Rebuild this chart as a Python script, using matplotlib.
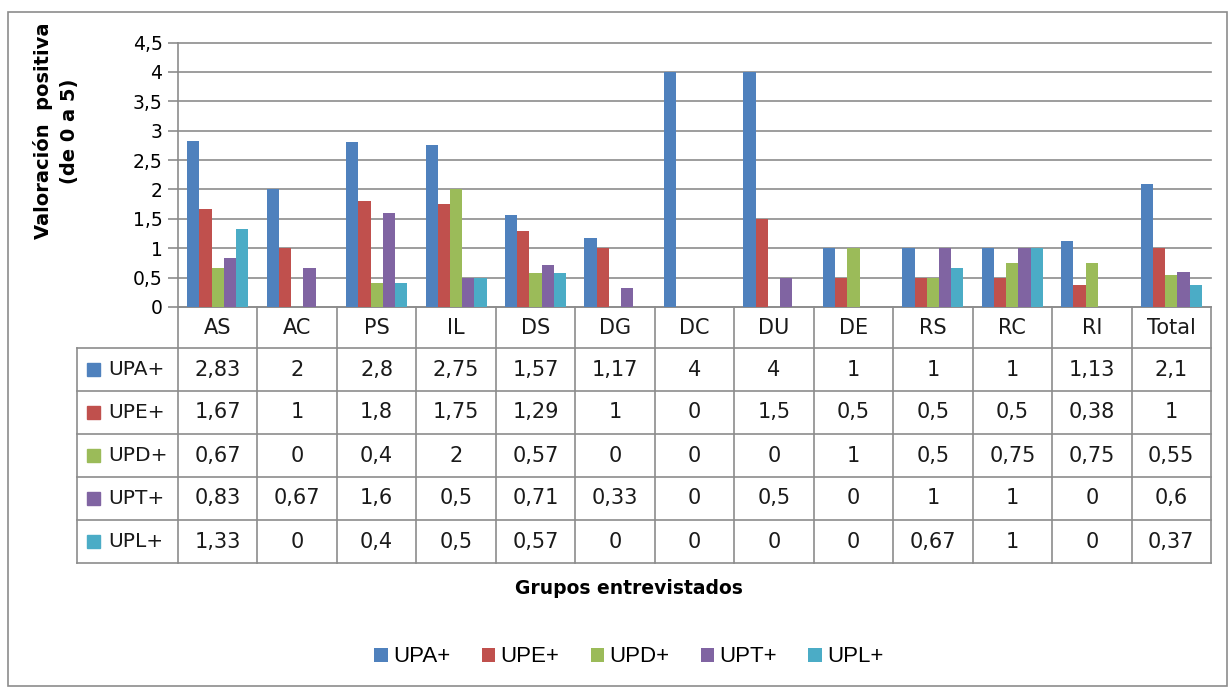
import numpy as np
import matplotlib
matplotlib.use("Agg")
import matplotlib.pyplot as plt
from matplotlib.patches import Rectangle

# ---- data ----
categories = ["AS", "AC", "PS", "IL", "DS", "DG", "DC", "DU", "DE", "RS", "RC", "RI", "Total"]
series_names = ["UPA+", "UPE+", "UPD+", "UPT+", "UPL+"]
upa = [2.83, 2, 2.8, 2.75, 1.57, 1.17, 4, 4, 1, 1, 1, 1.13, 2.1]
upe = [1.67, 1, 1.8, 1.75, 1.29, 1, 0, 1.5, 0.5, 0.5, 0.5, 0.38, 1]
upd = [0.67, 0, 0.4, 2, 0.57, 0, 0, 0, 1, 0.5, 0.75, 0.75, 0.55]
upt = [0.83, 0.67, 1.6, 0.5, 0.71, 0.33, 0, 0.5, 0, 1, 1, 0, 0.6]
upl = [1.33, 0, 0.4, 0.5, 0.57, 0, 0, 0, 0, 0.67, 1, 0, 0.37]
series_values = [upa, upe, upd, upt, upl]
colors = ["#4F81BD", "#C0504D", "#9BBB59", "#8064A2", "#4BACC6"]
yticks = [0, 0.5, 1, 1.5, 2, 2.5, 3, 3.5, 4, 4.5]

def fmt(v):
    return f"{v:g}".replace(".", ",")

W, H = 1229, 687
fig = plt.figure(figsize=(W / 100, H / 100), dpi=100)
fig.patch.set_facecolor("white")
GRAY = "#8c8c8c"
FONT = "DejaVu Sans"

# outer border
fig.patches.append(Rectangle((8 / W, 1 - 686 / H), (1227 - 8) / W, (686 - 12) / H,
                             transform=fig.transFigure, fill=False, edgecolor=GRAY, lw=1.2))

# ---- bar axes ----
ax_left, ax_right = 178, 1211
ax_top, ax_bot = 42.5, 307
ax = fig.add_axes([ax_left / W, 1 - ax_bot / H, (ax_right - ax_left) / W, (ax_bot - ax_top) / H])
x = np.arange(len(categories))
bw = 0.154
handles = []
for i, (vals, c) in enumerate(zip(series_values, colors)):
    b = ax.bar(x + (i - 2) * bw, vals, width=bw, color=c, zorder=3, linewidth=0)
    handles.append(b)
ax.set_xlim(-0.5, len(categories) - 0.5)
ax.set_ylim(0, 4.5)
ax.set_yticks(yticks)
ax.set_yticklabels([fmt(v) for v in yticks], fontfamily=FONT, fontsize=13.5)
ax.set_xticks([])
ax.yaxis.grid(True, color=GRAY, lw=1.2, zorder=0)
for gl in ax.get_ygridlines():
    gl.set_clip_on(False)
ax.tick_params(axis="y", length=7.2, width=1.2, color=GRAY, pad=4)
for s in ["top", "right"]:
    ax.spines[s].set_visible(False)
for s in ["left", "bottom"]:
    ax.spines[s].set_color(GRAY)
    ax.spines[s].set_linewidth(1.2)

# ---- data table ----
tb_top, tb_bot = 307, 563
tax = fig.add_axes([ax_left / W, 1 - tb_bot / H, (ax_right - ax_left) / W, (tb_bot - tb_top) / H])
tax.set_xlim(-0.5, len(categories) - 0.5)
tax.set_ylim(tb_bot, tb_top)
tax.axis("off")
col_w = (ax_right - ax_left) / len(categories)
x0 = -0.5 - (ax_left - 77) / col_w
row_edges = [307, 348, 391, 434, 477, 520, 563]
for yy in row_edges[1:]:
    tax.plot([x0, len(categories) - 0.5], [yy, yy], color=GRAY, lw=1.2, clip_on=False)
for k in range(len(categories) + 1):
    tax.plot([k - 0.5, k - 0.5], [307, 563], color=GRAY, lw=1.2, clip_on=False)
tax.plot([x0, x0], [348, 563], color=GRAY, lw=1.2, clip_on=False)

for j, cat in enumerate(categories):
    tax.text(j, (row_edges[0] + row_edges[1]) / 2, cat, ha="center", va="center",
             fontfamily=FONT, fontsize=15, color="#1a1a1a")
for i, (name, vals, c) in enumerate(zip(series_names, series_values, colors)):
    yc = (row_edges[i + 1] + row_edges[i + 2]) / 2
    sq = 13 / col_w
    tax.add_patch(Rectangle((x0 + 10 / col_w, yc - 6.5), sq, 13, color=c, clip_on=False))
    tax.text(x0 + 31 / col_w, yc, name, ha="left", va="center",
             fontfamily=FONT, fontsize=14.5, color="#1a1a1a", clip_on=False)
    for j, v in enumerate(vals):
        tax.text(j, yc, fmt(v), ha="center", va="center",
                 fontfamily=FONT, fontsize=15, color="#1a1a1a")

# ---- labels ----
fig.text(629 / W, 1 - 588 / H, "Grupos entrevistados", ha="center", va="center",
         fontfamily=FONT, fontweight="bold", fontsize=13.5)
fig.text(56 / W, 1 - 131 / H, "Valoración  positiva\n(de 0 a 5)", ha="center", va="center",
         rotation=90, fontfamily=FONT, fontweight="bold", fontsize=14,
         multialignment="center", linespacing=1.5)

# ---- legend ----
fig.legend(handles, series_names, loc="center", bbox_to_anchor=(629 / W, 1 - 657 / H),
           ncol=5, frameon=False, handlelength=0.6, handleheight=0.6, handletextpad=0.25,
           columnspacing=1.4, prop={"family": "Liberation Sans", "size": 16})

fig.savefig("out.png", dpi=100, facecolor="white")
